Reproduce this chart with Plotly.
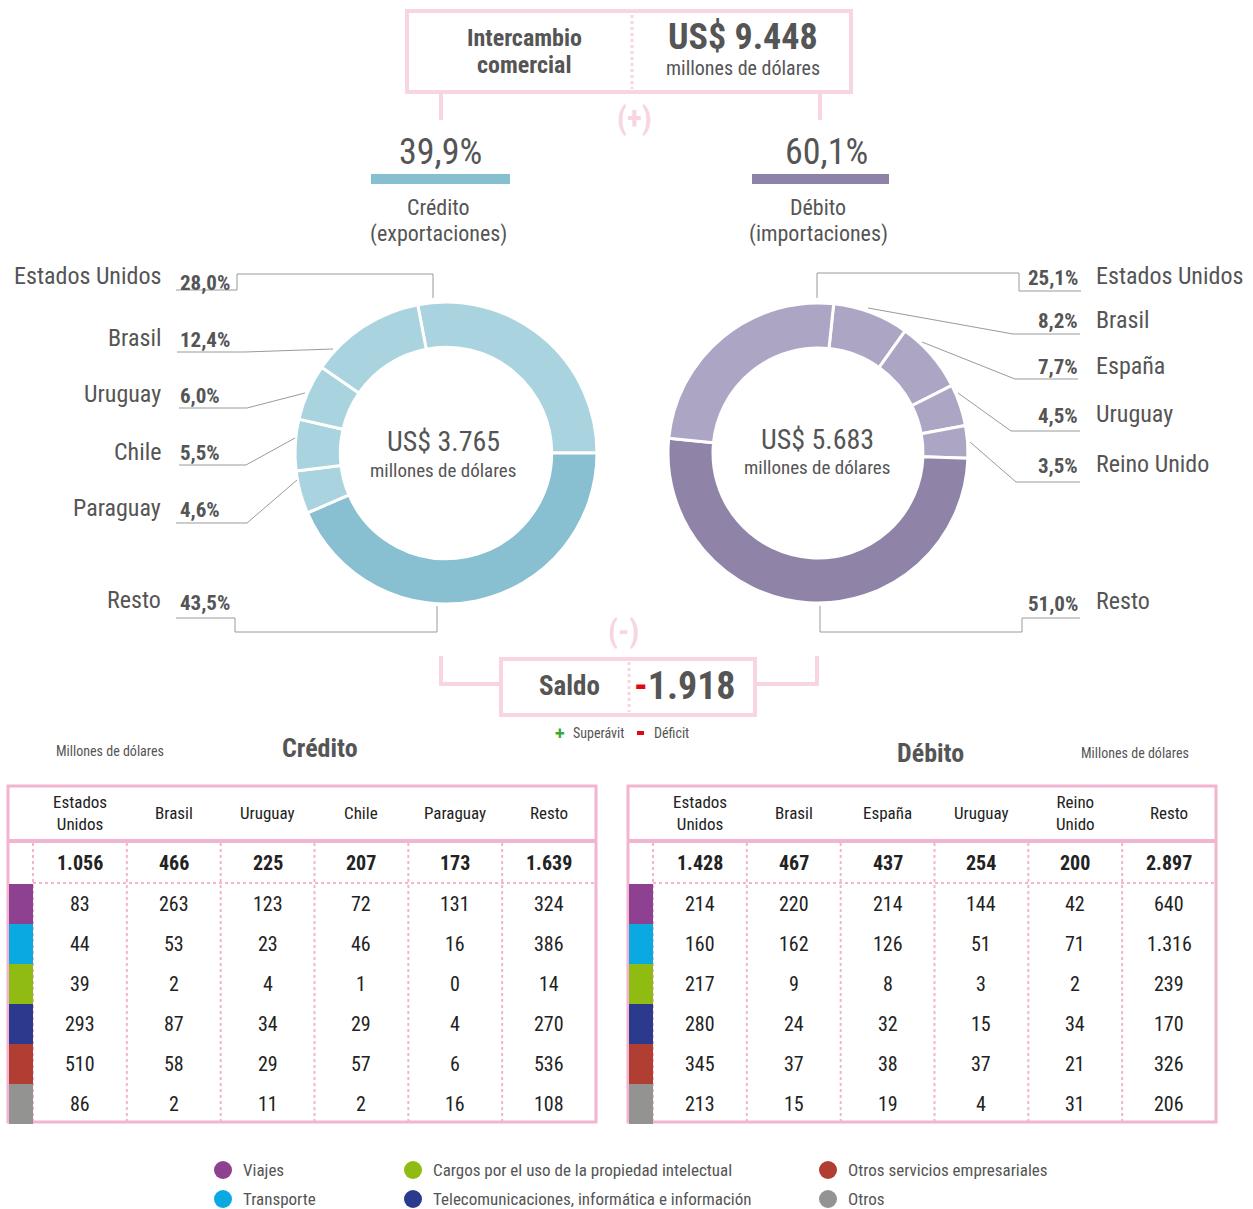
import plotly.graph_objects as go

W, H = 1253, 1209
FONT = "Liberation Sans Narrow, Roboto Condensed, DejaVu Sans Condensed, Arial Narrow, sans-serif"
GRAY = "#555555"
DARK = "#222222"
PINK_LIGHT = "#f9d4e2"
PINK = "#f3b4cf"
LEAD = "#9a9a9a"

# ---------------- data ----------------
total_exchange = 9448
credit_total = 3765
debit_total = 5683
saldo = -1918
credit_pct_of_total = 39.9
debit_pct_of_total = 60.1

credit_pie_labels = ["Estados Unidos", "Resto", "Paraguay", "Chile", "Uruguay", "Brasil"]
credit_pie_values = [28.0, 43.5, 4.6, 5.5, 6.0, 12.4]
debit_pie_labels = ["Brasil", "España", "Uruguay", "Reino Unido", "Resto", "Estados Unidos"]
debit_pie_values = [8.2, 7.7, 4.5, 3.5, 51.0, 25.1]

credit_countries = ["Estados<br>Unidos", "Brasil", "Uruguay", "Chile", "Paraguay", "Resto"]
credit_totals = [1056, 466, 225, 207, 173, 1639]
credit_rows = [
    [83, 263, 123, 72, 131, 324],
    [44, 53, 23, 46, 16, 386],
    [39, 2, 4, 1, 0, 14],
    [293, 87, 34, 29, 4, 270],
    [510, 58, 29, 57, 6, 536],
    [86, 2, 11, 2, 16, 108],
]
debit_countries = ["Estados<br>Unidos", "Brasil", "España", "Uruguay", "Reino<br>Unido", "Resto"]
debit_totals = [1428, 467, 437, 254, 200, 2897]
debit_rows = [
    [214, 220, 214, 144, 42, 640],
    [160, 162, 126, 51, 71, 1316],
    [217, 9, 8, 3, 2, 239],
    [280, 24, 32, 15, 34, 170],
    [345, 37, 38, 37, 21, 326],
    [213, 15, 19, 4, 31, 206],
]
service_names = ["Viajes", "Transporte", "Cargos por el uso de la propiedad intelectual",
                 "Telecomunicaciones, informática e información",
                 "Otros servicios empresariales", "Otros"]
service_colors = ["#8e4191", "#0aa9e1", "#8fbb13", "#2b3a8d", "#b13e32", "#939391"]


def fmt(n):
    return f"{abs(n):,}".replace(",", ".")


def pct(v):
    return f"{v:.1f}%".replace(".", ",")


fig = go.Figure()
shapes = []
ann = []


def line(x0, y0, x1, y1, color=LEAD, width=1, dash=None):
    d = dict(type="line", x0=x0, y0=y0, x1=x1, y1=y1, xref="x", yref="y",
             line=dict(color=color, width=width))
    if dash:
        d["line"]["dash"] = dash
    shapes.append(d)


def path(pts, color=LEAD, width=1):
    p = "M " + " L ".join(f"{x},{y}" for x, y in pts)
    shapes.append(dict(type="path", path=p, xref="x", yref="y",
                       line=dict(color=color, width=width)))


def rect(x0, y0, x1, y1, fill=None, color=None, width=0):
    d = dict(type="rect", x0=x0, y0=y0, x1=x1, y1=y1, xref="x", yref="y",
             line=dict(color=color or "rgba(0,0,0,0)", width=width))
    if fill:
        d["fillcolor"] = fill
    shapes.append(d)


def text(x, y, t, size, color=GRAY, anchor="center", bold=False):
    if bold:
        t = f"<b>{t}</b>"
    ann.append(dict(x=x, y=y, xref="x", yref="y", text=t, showarrow=False,
                    xanchor=anchor, yanchor="middle",
                    font=dict(family=FONT, size=size, color=color)))


# ---------------- top box ----------------
rect(407, 11, 851, 92, color=PINK_LIGHT, width=4)
line(632, 15, 632, 89, color=PINK_LIGHT, width=3, dash="dot")
text(524, 38, "Intercambio", 24, bold=True)
text(524, 65, "comercial", 24, bold=True)
text(743, 37, f"US$ {fmt(total_exchange)}", 36, bold=True)
text(743, 68, "millones de dólares", 20)
line(441, 93, 441, 120, color=PINK_LIGHT, width=4)
line(820, 93, 820, 120, color=PINK_LIGHT, width=4)
text(634, 118, "(+)", 31, color=PINK_LIGHT, bold=True)

# shares
text(440, 152, pct(credit_pct_of_total), 36)
rect(371, 174, 510, 184, fill="#86bfd0")
text(438, 207, "Crédito", 22)
text(438, 234, "(exportaciones)", 22)
text(826, 152, pct(debit_pct_of_total), 36)
rect(752, 174, 889, 184, fill="#8e82a8")
text(818, 207, "Débito", 22)
text(818, 234, "(importaciones)", 22)

# ---------------- donuts ----------------
def dom(cx, cy, r):
    return dict(x=[(cx - r) / W, (cx + r) / W], y=[1 - (cy + r) / H, 1 - (cy - r) / H])


credit_colors = ["#a9d3df" if l != "Resto" else "#88c0d1" for l in credit_pie_labels]
debit_colors = ["#ada5c4" if l != "Resto" else "#8f83a8" for l in debit_pie_labels]

# "Resto" starts at 3 o'clock in the credit donut
fig.add_trace(go.Pie(labels=credit_pie_labels, values=credit_pie_values, hole=0.70,
                     sort=False, direction="clockwise",
                     rotation=90 - credit_pie_values[0] * 3.6,
                     marker=dict(colors=credit_colors, line=dict(color="white", width=3)),
                     textinfo="none", hoverinfo="label+percent", showlegend=False,
                     domain=dom(446, 453, 151)))
fig.add_trace(go.Pie(labels=debit_pie_labels, values=debit_pie_values, hole=0.70,
                     sort=False, direction="clockwise", rotation=6,
                     marker=dict(colors=debit_colors, line=dict(color="white", width=3)),
                     textinfo="none", hoverinfo="label+percent", showlegend=False,
                     domain=dom(818, 453, 150)))

text(443, 441, f"US$ {fmt(credit_total)}", 28)
text(443, 470, "millones de dólares", 19)
text(817, 439, f"US$ {fmt(debit_total)}", 28)
text(817, 467, "millones de dólares", 19)

# left labels
cp = dict(zip(credit_pie_labels, credit_pie_values))
left_specs = [  # name, name_y, pct_y, leader points
    ("Estados Unidos", 276, 283, [(176, 290), (237, 290), (237, 274), (433, 274), (433, 298)]),
    ("Brasil", 338, 340, [(177, 352), (245, 352), (333, 349)]),
    ("Uruguay", 394, 396, [(179, 408), (247, 408), (305, 393)]),
    ("Chile", 452, 453, [(179, 465), (246, 465), (295, 438)]),
    ("Paraguay", 508, 510, [(176, 523), (247, 523), (297, 480)]),
    ("Resto", 600, 603, [(176, 618), (235, 618), (235, 632), (437, 632), (437, 606)]),
]
for name, ny, py, pts in left_specs:
    text(163, ny, name, 24, anchor="right")
    text(178, py, pct(cp[name]), 21, anchor="left", bold=True)
    path(pts)

dp = dict(zip(debit_pie_labels, debit_pie_values))
right_specs = [
    ("Estados Unidos", 276, 278, [(1081, 291), (1019, 291), (1019, 273), (817, 273), (817, 298)]),
    ("Brasil", 320, 321, [(1080, 334), (1013, 334), (868, 308)]),
    ("España", 366, 367, [(1078, 379), (1015, 379), (922, 342)]),
    ("Uruguay", 414, 416, [(1080, 431), (1011, 431), (958, 393)]),
    ("Reino Unido", 464, 466, [(1080, 482), (1016, 482), (970, 442)]),
    ("Resto", 601, 604, [(1080, 618), (1022, 618), (1022, 632), (820, 632), (820, 606)]),
]
for name, ny, py, pts in right_specs:
    text(1094, ny, name, 24, anchor="left")
    text(1080, py, pct(dp[name]), 21, anchor="right", bold=True)
    path(pts)

# ---------------- saldo ----------------
text(623, 631, "(-)", 31, color=PINK_LIGHT, bold=True)
path([(441, 656), (441, 684), (500, 684)], color=PINK_LIGHT, width=4)
path([(756, 684), (817, 684), (817, 656)], color=PINK_LIGHT, width=4)
rect(501, 659, 755, 715, color=PINK_LIGHT, width=4)
line(629, 662, 629, 712, color=PINK_LIGHT, width=3, dash="dot")
text(569, 686, "Saldo", 27, bold=True)
sign = "-" if saldo < 0 else "+"
text(685, 686, f"<span style='color:#e30613'>{sign}</span>{fmt(saldo)}", 38, bold=True)
text(560, 733, "✚", 13, color="#3aaa35")
text(571, 733, "Superávit", 14, anchor="left")
rect(637, 731, 644, 735, fill="#e30613")
text(652, 733, "Déficit", 14, anchor="left")

# ---------------- tables ----------------
def table(x0, title, title_x, title_y, unit_x, unit_y, countries, totals, rows):
    xr = x0 + 588
    sw = x0 + 25
    colw = (xr - sw) / 6
    text(title_x, title_y, title, 26, bold=True)
    text(unit_x, unit_y, "Millones de dólares", 14)
    rect(x0, 786, xr, 1122, color=PINK, width=3)
    line(x0, 841, xr, 841, color=PINK, width=4)
    for k in range(6):
        cx = sw + k * colw
        line(cx, 843, cx, 1121, color=PINK, width=2, dash="dot")
    line(sw, 883, xr, 883, color=PINK, width=2, dash="dot")
    for r in range(6):
        rect(x0 + 1, 884 + 40 * r, sw, 884 + 40 * (r + 1), fill=service_colors[r])
    for c in range(6):
        cx = sw + colw * (c + 0.5)
        text(cx, 813, countries[c], 17, color=DARK)
        text(cx, 863, fmt(totals[c]), 20, color=DARK, bold=True)
        for r in range(6):
            text(cx, 904 + 40 * r, fmt(rows[r][c]), 20, color=DARK)


table(8, "Crédito", 320, 748, 110, 751, credit_countries, credit_totals, credit_rows)
table(628, "Débito", 930, 753, 1135, 753, debit_countries, debit_totals, debit_rows)

# ---------------- bottom legend ----------------
leg_pos = [(223, 1170), (223, 1199), (413, 1170), (413, 1199), (828, 1170), (828, 1199)]
for (lx, ly), name, col in zip(leg_pos, service_names, service_colors):
    shapes.append(dict(type="circle", xref="x", yref="y", x0=lx - 9, x1=lx + 9,
                       y0=ly - 9, y1=ly + 9, fillcolor=col, line=dict(width=0)))
    text(lx + 18, ly, name, 17, anchor="left")

fig.update_layout(
    width=W, height=H, margin=dict(l=0, r=0, t=0, b=0),
    paper_bgcolor="white", plot_bgcolor="white",
    xaxis=dict(range=[0, W], visible=False, domain=[0, 1], fixedrange=True),
    yaxis=dict(range=[H, 0], visible=False, domain=[0, 1], fixedrange=True),
    shapes=shapes, annotations=ann, showlegend=False,
)
fig.write_html("out.html", config={"displayModeBar": False},
               post_script="document.body.style.margin='0';document.body.style.overflow='hidden';")
